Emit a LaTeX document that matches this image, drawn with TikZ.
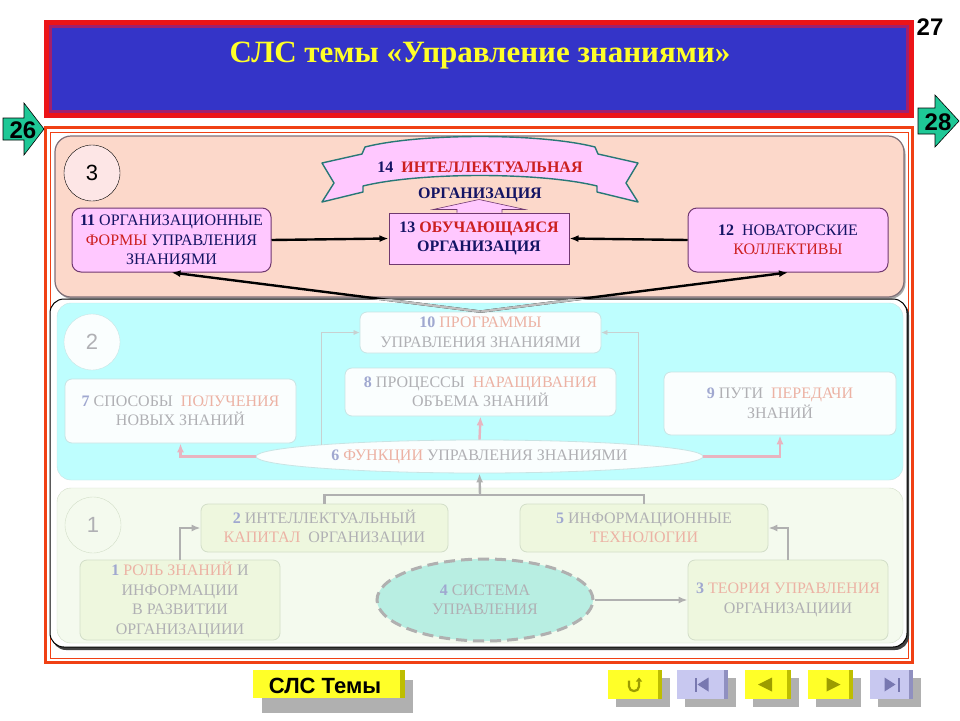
\documentclass[tikz,border=0pt]{standalone}
\usepackage{fontspec}
\setmainfont{Liberation Serif}
\newfontfamily\arialfont{Liberation Sans}
\usetikzlibrary{arrows.meta,shapes.geometric}

\definecolor{titleRed}{RGB}{236,20,24}
\definecolor{titlePlum}{RGB}{160,32,110}
\definecolor{titleBlue}{RGB}{52,52,200}
\definecolor{titleYellow}{RGB}{255,255,40}
\definecolor{frameRed}{RGB}{240,64,20}
\definecolor{peach}{RGB}{252,216,202}
\definecolor{peachLine}{RGB}{128,112,120}
\definecolor{boxPink}{RGB}{255,200,255}
\definecolor{boxPlum}{RGB}{112,56,112}
\definecolor{ribbonTeal}{RGB}{40,120,118}
\definecolor{txtNavy}{RGB}{20,20,100}
\definecolor{hiRed}{RGB}{204,32,32}
\definecolor{circlePink}{RGB}{253,230,230}
\definecolor{cyanPanel}{RGB}{190,254,254}
\definecolor{cyanLine}{RGB}{200,228,228}
\definecolor{cyanBox}{RGB}{250,254,254}
\definecolor{greenPanel}{RGB}{244,250,238}
\definecolor{greenLine}{RGB}{210,222,200}
\definecolor{greenBox}{RGB}{238,247,222}
\definecolor{txtPale}{RGB}{176,176,180}
\definecolor{numPale}{RGB}{160,168,208}
\definecolor{hiPale}{RGB}{236,178,164}
\definecolor{wirePink}{RGB}{232,180,192}
\definecolor{wireGray}{RGB}{176,176,176}
\definecolor{thinGray}{RGB}{200,208,208}
\definecolor{systemTeal}{RGB}{184,238,226}
\definecolor{pageGreen}{RGB}{30,200,150}
\definecolor{btnYellow}{RGB}{255,255,40}
\definecolor{btnOlive}{RGB}{190,190,0}
\definecolor{btnLilac}{RGB}{200,200,240}
\definecolor{btnLilacDark}{RGB}{144,144,192}
\definecolor{btnShadow}{RGB}{176,176,176}
\definecolor{iconOlive}{RGB}{156,156,0}
\definecolor{iconBlue}{RGB}{120,120,176}

\newcommand{\numt}[1]{\textbf{#1}}
\newcommand{\nump}[1]{\textbf{\textcolor{numPale}{#1}}}
\newcommand{\hlr}[1]{\textcolor{hiRed}{#1}}
\newcommand{\hlp}[1]{\textcolor{hiPale}{#1}}

\tikzset{
  boxtext/.style={align=center, inner sep=0pt, font=\fontsize{16}{19.5}\selectfont},
  topbox/.style={boxtext, draw=boxPlum, fill=boxPink, line width=1pt,
                 rounded corners=9pt, text=txtNavy},
  midbox/.style={boxtext, draw=cyanLine, fill=cyanBox, line width=0.8pt,
                 rounded corners=7pt, text=txtPale},
  lowbox/.style={boxtext, draw=greenLine, fill=greenBox, line width=0.8pt,
                 rounded corners=7pt, text=txtPale},
  levelcircle/.style={circle, draw, minimum size=56pt, inner sep=0pt,
                      font=\arialfont\fontsize{22}{22}\selectfont},
  wire/.style={->, line width=2.4pt},
  pinkwire/.style={->, line width=2.4pt, draw=wirePink},
  graywire/.style={line width=2.4pt, draw=wireGray},
  thinwire/.style={->, line width=0.6pt, draw=thinGray,
                   >={Latex[length=6pt,width=5pt]}},
  pagearrow/.style={fill=pageGreen, draw=black, line width=0.6pt},
  pagenum/.style={font=\arialfont\bfseries\fontsize{24}{24}\selectfont},
  navbutton/.style={minimum height=29pt, inner sep=0pt},
}

\begin{document}
\begin{tikzpicture}[x=1pt, y=-1pt, >={Latex[length=9pt,width=7pt]}]
	\useasboundingbox (0,0) rectangle (960,720);
	\fill[white] (0,0) rectangle (960,720);

	% Title
	\fill[titleRed] (44,20) rectangle (914,118);
	\fill[titlePlum] (49,25) rectangle (909,113);
	\fill[titleBlue] (52,28) rectangle (906,110);
	\node (title) at (480,62) [anchor=base, text=titleYellow,
	      font=\bfseries\fontsize{31}{31}\selectfont]
	      {СЛС темы «Управление знаниями»};

	% Frame
	\draw[frameRed, line width=3pt] (45.5,127.5) rectangle (912.5,662.5);
	\draw[frameRed, line width=1pt] (50,132) rectangle (908,658);

	% Level panels
	\fill[gray!70, rounded corners=16pt] (56.5,138) rectangle (905.5,299);
	\draw[peachLine, fill=peach, line width=1.2pt, rounded corners=16pt]
	      (55,136) rectangle (904,297);
	\fill[black!75, rounded corners=14pt] (52,301) rectangle (909,650);
	\draw[black, fill=white, line width=1pt, rounded corners=14pt]
	      (50,299) rectangle (907,647);
	\draw[cyanLine, fill=cyanPanel, rounded corners=14pt]
	      (57,303) rectangle (903,480);
	\draw[greenLine, fill=greenPanel, rounded corners=14pt]
	      (57,488) rectangle (903,643);

	% Level 3
	\node (circle 3) at (92,173) [levelcircle, fill=circlePink] {3};
	\draw[ribbonTeal, fill=boxPink, line width=1.4pt, line join=round]
	      (322,163) -- (362,154) -- (365,147)
	   .. controls (420,133) and (540,133) .. (595,147)
	   -- (598,154) -- (638,163) -- (626,183) -- (638,202) -- (597,192)
	   -- (597,186)
	   .. controls (540,172) and (420,172) .. (363,186)
	   -- (363,192) -- (322,202) -- (334,183) -- cycle;
	\node (ribbon) at (480,172) [anchor=base, text=txtNavy,
	      font=\bfseries\fontsize{16}{16}\selectfont]
	      {14\ \ \hlr{ИНТЕЛЛЕКТУАЛЬНАЯ}};
	\node (ribbon org) at (480,198) [anchor=base, text=txtNavy,
	      font=\bfseries\fontsize{16}{16}\selectfont] {ОРГАНИЗАЦИЯ};

	\node (box 11) at (171.5,240) [topbox, minimum width=199pt, minimum height=64pt]
	      {\numt{11} ОРГАНИЗАЦИОННЫЕ\\\hlr{ФОРМЫ} УПРАВЛЕНИЯ\\ЗНАНИЯМИ};
	\node (box 13) at (479,238.5) [topbox, rounded corners=0pt, font=\bfseries\fontsize{16}{19.5}\selectfont,
	      minimum width=180pt, minimum height=51pt]
	      {13 \hlr{ОБУЧАЮЩАЯСЯ}\\ОРГАНИЗАЦИЯ};
	\node (box 12) at (788,240) [topbox, minimum width=200pt, minimum height=64pt]
	      {\numt{12}\ \ НОВАТОРСКИЕ\\\hlr{КОЛЛЕКТИВЫ}};

	% Arrow up to the ribbon
	\draw[boxPlum, fill=boxPink, line width=0.6pt]
	      (box 13.north) ++(-22,0) -- ++(0,-3) -- ++(-24,0) -- ++(46,-10)
	   -- ++(46,10) -- ++(-23,0) -- ++(0,3);

	% Level 2
	\node (circle 2) at (92,342) [levelcircle, draw=cyanLine, fill=cyanBox, text=txtPale] {2};
	\node (box 10) at (480.5,332.5) [midbox, minimum width=241pt, minimum height=41pt]
	      {\nump{10} \hlp{ПРОГРАММЫ}\\УПРАВЛЕНИЯ ЗНАНИЯМИ};
	\node (box 8) at (480.5,392) [midbox, minimum width=271pt, minimum height=48pt]
	      {\nump{8} ПРОЦЕССЫ\ \ \hlp{НАРАЩИВАНИЯ}\\ОБЪЕМА ЗНАНИЙ};
	\node (box 7) at (180.5,411) [midbox, minimum width=231pt, minimum height=64pt]
	      {\nump{7} СПОСОБЫ\ \ \hlp{ПОЛУЧЕНИЯ}\\НОВЫХ ЗНАНИЙ};
	\node (box 9) at (780,403.5) [midbox, minimum width=232pt, minimum height=63pt]
	      {\nump{9} ПУТИ\ \ \hlp{ПЕРЕДАЧИ}\\ЗНАНИЙ};
	\node (box 6) at (479.5,456.5) [midbox, ellipse, minimum width=447pt, minimum height=33pt]
	      {\nump{6} \hlp{ФУНКЦИИ} УПРАВЛЕНИЯ ЗНАНИЯМИ};

	% Level 1
	\node (circle 1) at (93,525) [levelcircle, draw=greenLine, fill=greenPanel, text=txtPale] {1};
	\node (box 2) at (324.5,528) [lowbox, minimum width=247pt, minimum height=48pt]
	      {\nump{2} ИНТЕЛЛЕКТУАЛЬНЫЙ\\\hlp{КАПИТАЛ}\ \ ОРГАНИЗАЦИИ};
	\node (box 5) at (644,528) [lowbox, minimum width=248pt, minimum height=48pt]
	      {\nump{5} ИНФОРМАЦИОННЫЕ\\\hlp{ТЕХНОЛОГИИ}};
	\node (box 1) at (180,600) [lowbox, minimum width=200pt, minimum height=80pt]
	      {\nump{1} \hlp{РОЛЬ ЗНАНИЙ} И\\ИНФОРМАЦИИ\\В РАЗВИТИИ\\ОРГАНИЗАЦИИИ};
	\node (box 4) at (485,600) [lowbox, ellipse, fill=systemTeal, draw=wireGray,
	      line width=3pt, dash pattern=on 11pt off 6pt, minimum width=216pt, minimum height=82pt]
	      {\nump{4} СИСТЕМА\\УПРАВЛЕНИЯ};
	\node (box 3) at (788,600) [lowbox, minimum width=200pt, minimum height=80pt]
	      {\nump{3} \hlp{ТЕОРИЯ УПРАВЛЕНИЯ}\\ОРГАНИЗАЦИИИ};

	% Wires in level 1
	\coordinate (fork) at (480,495);
	\draw[graywire] (box 2.north) |- (fork) -| (box 5.north);
	\draw[graywire, ->] (fork) -- (box 6.south);
	\draw[graywire, ->] (box 1.north) |- (box 2.west);
	\draw[graywire, ->] (box 3.north) |- (box 5.east);
	\draw[graywire, ->] (box 4.east) -- (box 3.west);

	% Wires in level 2
	\draw[pinkwire] (box 6.west) -| (box 7.south);
	\draw[pinkwire] (box 6.east) -| (box 9.south);
	\draw[pinkwire] (box 6.north) -- (box 8.south);
	\draw[thinwire] (box 6.north west) |- (box 10.west);
	\draw[thinwire] (box 6.north east) |- (box 10.east);

	% Wires in level 3
	\draw[wire] (box 11.east) -- (box 13.west);
	\draw[wire] (box 12.west) -- (box 13.east);
	\draw[wire] (box 10.north) -- (box 11.south);
	\draw[wire] (box 10.north) -- (box 12.south);
	\begin{scope}
		\clip (50,299.5) rectangle (907,320);
		\draw[graywire, draw=black!25] (box 10.north) -- (box 11.south);
		\draw[graywire, draw=black!25] (box 10.north) -- (box 12.south);
	\end{scope}

	% Page arrows
	\draw[pagearrow] (3,118) -- (24,118) -- (24,103) -- (44,129) -- (24,155)
	   -- (24,140) -- (3,140) -- cycle;
	\node (page 26) at (23,130) [pagenum] {26};
	\draw[pagearrow] (918,108) -- (935,108) -- (935,95) -- (959,121) -- (935,147)
	   -- (935,134) -- (918,134) -- cycle;
	\node (page 28) at (938,122) [pagenum] {28};
	\node (page 27) at (930,27) [pagenum] {27};

	% Buttons
	\fill[btnShadow] (262,680) rectangle (413,713);
	\node (topics) at (329,684) [navbutton, fill=btnYellow, minimum width=152pt,
	      minimum height=28pt] {};
	\fill[btnOlive] (topics.north east) ++(-5,0) rectangle (topics.south east);
	\node at (325,686) [font=\arialfont\bfseries\fontsize{22}{22}\selectfont] {СЛС Темы};

	\foreach \n/\x/\w/\face/\edge in {1/635/54/btnYellow/btnOlive,
	      2/702.5/51/btnLilac/btnLilacDark, 3/768/46/btnYellow/btnOlive,
	      4/830.5/45/btnYellow/btnOlive, 5/891.5/43/btnLilac/btnLilacDark}{
		\fill[btnShadow] (\x-\w/2+8,678) rectangle (\x+\w/2+8,707);
		\node (button \n) at (\x,684.5) [navbutton, fill=\face, minimum width=\w pt] {};
		\fill[\edge] (button \n.north east) ++(-4,0) rectangle (button \n.south east);
	}

	% Button icons
	\draw[iconOlive, line width=2.2pt, -{Triangle[length=4pt,width=6pt]}]
	      ([shift={(-6,-4)}] button 1.center) -- ++(0,6)
	   .. controls ++(0,6) and ++(0,6) .. ++(10,0) -- ++(0,-9);
	\fill[iconBlue] ([shift={(-8,-7)}] button 2.center) rectangle ++(2,14);
	\fill[iconBlue] ([shift={(-5,0)}] button 2.center) -- ++(11,-7) -- ++(0,14) -- cycle;
	\fill[iconOlive] ([shift={(-10,0)}] button 3.center) -- ++(14,-7) -- ++(0,14) -- cycle;
	\fill[iconOlive] ([shift={(10,0)}] button 4.center) -- ++(-14,-7) -- ++(0,14) -- cycle;
	\fill[iconBlue] ([shift={(4,0)}] button 5.center) -- ++(-11,-7) -- ++(0,14) -- cycle;
	\fill[iconBlue] ([shift={(6,-7)}] button 5.center) rectangle ++(2,14);
\end{tikzpicture}
\end{document}
